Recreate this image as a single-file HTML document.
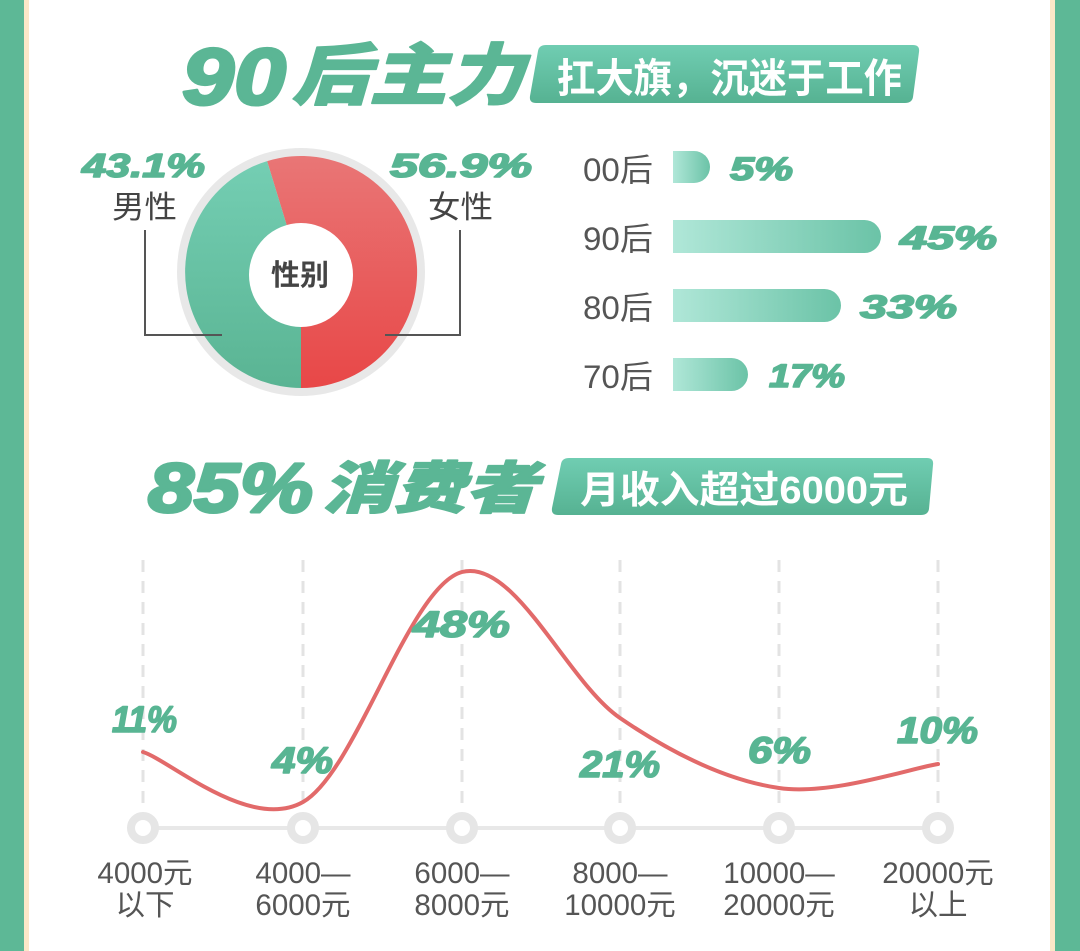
<!DOCTYPE html>
<html><head><meta charset="utf-8"><style>
html,body{margin:0;padding:0;background:#fff;}
body{width:1080px;height:951px;overflow:hidden;}
svg{display:block;}
.cn{font-family:"Liberation Sans","Noto Sans CJK SC",sans-serif;}
.num{font-family:"Liberation Sans",sans-serif;font-weight:bold;font-style:italic;fill:#58b593;stroke:#58b593;stroke-width:1.6;stroke-linejoin:round;}
.ttl{font-family:"Noto Sans CJK SC",sans-serif;font-weight:900;font-style:italic;fill:#5bb695;stroke:#5bb695;stroke-width:1.5;stroke-linejoin:round;}
</style></head><body>
<svg width="1080" height="951" viewBox="0 0 1080 951" xmlns="http://www.w3.org/2000/svg">
<defs>
<linearGradient id="tag" x1="0" y1="0" x2="0" y2="1"><stop offset="0" stop-color="#70cdb2"/><stop offset="1" stop-color="#56b292"/></linearGradient>
<linearGradient id="red" x1="0" y1="0" x2="0" y2="1"><stop offset="0" stop-color="#e97676"/><stop offset="1" stop-color="#e84747"/></linearGradient>
<linearGradient id="grn" x1="0" y1="0" x2="0" y2="1"><stop offset="0" stop-color="#74ceb3"/><stop offset="1" stop-color="#5ab493"/></linearGradient>
<linearGradient id="bar" x1="0" y1="0" x2="1" y2="0"><stop offset="0" stop-color="#b0e7d8"/><stop offset="1" stop-color="#6bc3a7"/></linearGradient>
</defs>
<rect x="0" y="0" width="1080" height="951" fill="#fff"/>
<rect x="0" y="0" width="24" height="951" fill="#5db896"/>
<rect x="24" y="0" width="5" height="951" fill="#fbe8c8"/>
<rect x="1050" y="0" width="5" height="951" fill="#fbe8c8"/>
<rect x="1055" y="0" width="25" height="951" fill="#5db896"/>

<!-- Title 1 -->
<text class="num" x="182" y="104" font-size="80" textLength="104" lengthAdjust="spacingAndGlyphs" style="fill:#5bb695;stroke:#5bb695;stroke-width:3">90</text>
<text class="ttl" x="292" y="99" font-size="67" textLength="232" lengthAdjust="spacingAndGlyphs">后主力</text>
<path d="M546,45 L913,45 Q920,45 919,52 L913,97 Q912,103 905,103 L536,103 Q529,103 530,96 L538,51 Q539,45 546,45 Z" fill="url(#tag)"/>
<text class="cn" x="557" y="92" font-size="40" font-weight="bold" fill="#fff" textLength="345" lengthAdjust="spacingAndGlyphs">扛大旗，沉迷于工作</text>

<!-- Pie -->
<circle cx="301" cy="272" r="124" fill="#e8e8e8"/>
<path d="M301,272 L267.1,161.1 A116,116 0 1 1 301,388 Z" fill="url(#red)"/>
<path d="M301,272 L301,388 A116,116 0 0 1 267.1,161.1 Z" fill="url(#grn)"/>
<circle cx="301" cy="275" r="52" fill="#fff"/>
<text class="cn" x="300" y="285" font-size="29" font-weight="bold" fill="#444" text-anchor="middle">性别</text>
<polyline points="145,230 145,335 222,335" fill="none" stroke="#555" stroke-width="2"/>
<polyline points="460,230 460,335 385,335" fill="none" stroke="#555" stroke-width="2"/>
<text class="num" x="82" y="177" font-size="33" textLength="123" lengthAdjust="spacingAndGlyphs">43.1%</text>
<text class="num" x="390" y="177" font-size="33" textLength="142" lengthAdjust="spacingAndGlyphs">56.9%</text>
<text class="cn" x="112" y="218" font-size="31" fill="#444" textLength="65" lengthAdjust="spacingAndGlyphs">男性</text>
<text class="cn" x="428" y="218" font-size="31" fill="#444" textLength="65" lengthAdjust="spacingAndGlyphs">女性</text>

<!-- Bars -->
<g class="cn" font-size="32" fill="#555">
<text x="583" y="181" textLength="70" lengthAdjust="spacingAndGlyphs">00后</text>
<text x="583" y="250" textLength="70" lengthAdjust="spacingAndGlyphs">90后</text>
<text x="583" y="319" textLength="70" lengthAdjust="spacingAndGlyphs">80后</text>
<text x="583" y="388" textLength="70" lengthAdjust="spacingAndGlyphs">70后</text>
</g>
<path d="M673,151 L694,151 A16,16 0 0 1 694,183 L673,183 Z" fill="url(#bar)"/>
<path d="M673,220 L864.5,220 A16.5,16.5 0 0 1 864.5,253 L673,253 Z" fill="url(#bar)"/>
<path d="M673,289 L824.5,289 A16.5,16.5 0 0 1 824.5,322 L673,322 Z" fill="url(#bar)"/>
<path d="M673,358 L731.5,358 A16.5,16.5 0 0 1 731.5,391 L673,391 Z" fill="url(#bar)"/>
<text class="num" x="730" y="180" font-size="32" textLength="63" lengthAdjust="spacingAndGlyphs">5%</text>
<text class="num" x="900" y="249" font-size="32" textLength="97" lengthAdjust="spacingAndGlyphs">45%</text>
<text class="num" x="860" y="318" font-size="32" textLength="97" lengthAdjust="spacingAndGlyphs">33%</text>
<text class="num" x="769" y="387" font-size="32" textLength="76" lengthAdjust="spacingAndGlyphs">17%</text>

<!-- Title 2 -->
<text class="num" x="148" y="512" font-size="70" textLength="165" lengthAdjust="spacingAndGlyphs" style="fill:#5bb695;stroke:#5bb695;stroke-width:3">85%</text>
<text class="ttl" x="322" y="508" font-size="56" textLength="215" lengthAdjust="spacingAndGlyphs">消费者</text>
<path d="M569,458 L927,458 Q934,458 933,465 L929,509 Q928,515 921,515 L558,515 Q551,515 552,508 L561,464 Q562,458 569,458 Z" fill="url(#tag)"/>
<text class="cn" x="580" y="503" font-size="38" font-weight="bold" fill="#fff" textLength="328" lengthAdjust="spacingAndGlyphs">月收入超过6000元</text>

<!-- Line chart -->
<g stroke="#e3e3e3" stroke-width="3" stroke-dasharray="12 9">
<line x1="143" y1="560" x2="143" y2="812"/>
<line x1="303" y1="560" x2="303" y2="812"/>
<line x1="462" y1="560" x2="462" y2="812"/>
<line x1="620" y1="560" x2="620" y2="812"/>
<line x1="779" y1="560" x2="779" y2="812"/>
<line x1="938" y1="560" x2="938" y2="812"/>
</g>
<line x1="143" y1="828" x2="938" y2="828" stroke="#e8e8e8" stroke-width="4"/>
<g fill="#fff" stroke="#e6e6e6" stroke-width="8">
<circle cx="143" cy="828" r="12"/>
<circle cx="303" cy="828" r="12"/>
<circle cx="462" cy="828" r="12"/>
<circle cx="620" cy="828" r="12"/>
<circle cx="779" cy="828" r="12"/>
<circle cx="938" cy="828" r="12"/>
</g>
<path d="M143,752 C169.7,760.3 249.8,832 303,802 C356.2,772 409.2,586 462,572 C514.8,558 567.2,682 620,718 C672.8,754 726,780.3 779,788 C832,795.7 911.5,768 938,764" fill="none" stroke="#e26a6a" stroke-width="4" stroke-linecap="round"/>

<text class="num" x="112" y="732" font-size="37" textLength="65" lengthAdjust="spacingAndGlyphs">11%</text>
<text class="num" x="272" y="773" font-size="37" textLength="61" lengthAdjust="spacingAndGlyphs">4%</text>
<text class="num" x="413" y="637" font-size="37" textLength="97" lengthAdjust="spacingAndGlyphs">48%</text>
<text class="num" x="580" y="777" font-size="37" textLength="80" lengthAdjust="spacingAndGlyphs">21%</text>
<text class="num" x="748" y="763" font-size="37" textLength="63" lengthAdjust="spacingAndGlyphs">6%</text>
<text class="num" x="897" y="743" font-size="37" textLength="81" lengthAdjust="spacingAndGlyphs">10%</text>

<g class="cn" font-size="29.5" fill="#555" text-anchor="middle">
<text x="145" y="883">4000元</text>
<text x="145" y="915">以下</text>
<text x="303" y="883">4000—</text>
<text x="303" y="915">6000元</text>
<text x="462" y="883">6000—</text>
<text x="462" y="915">8000元</text>
<text x="620" y="883">8000—</text>
<text x="620" y="915">10000元</text>
<text x="779" y="883">10000—</text>
<text x="779" y="915">20000元</text>
<text x="938" y="883">20000元</text>
<text x="938" y="915">以上</text>
</g>
</svg>
</body></html>
